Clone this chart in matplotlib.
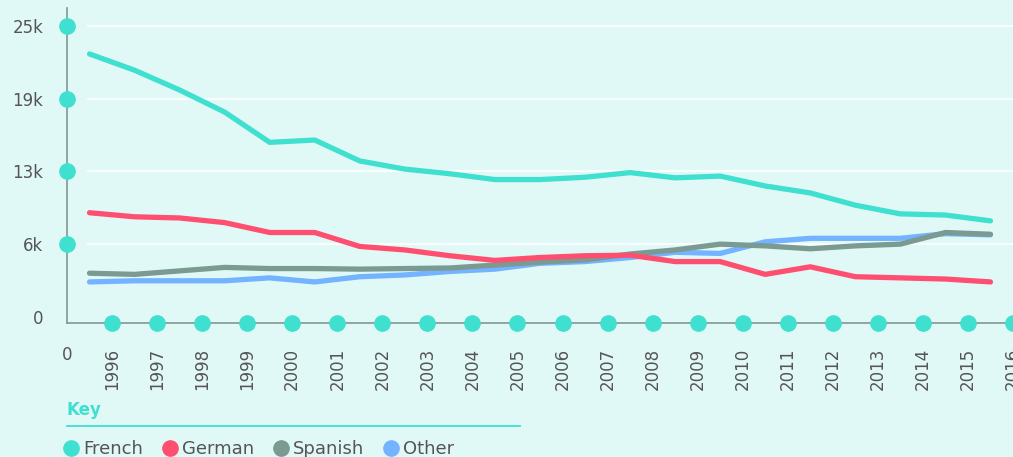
import matplotlib
matplotlib.use("Agg")
import matplotlib.pyplot as plt
from matplotlib.lines import Line2D
from matplotlib.transforms import blended_transform_factory

# data (one point per year)
years = list(range(1996, 2017))
french = [22600, 21200, 19500, 17600, 15000, 15200, 13400, 12700, 12300, 11800,
          11800, 12000, 12400, 11950, 12100, 11250, 10650, 9600, 8850, 8750, 8250]
german = [8950, 8600, 8500, 8100, 7250, 7250, 6050, 5750, 5250, 4850,
          5100, 5250, 5300, 4750, 4750, 3650, 4300, 3450, 3350, 3250, 3000]
spanish = [3750, 3650, 3950, 4250, 4150, 4150, 4100, 4150, 4200, 4450,
           4700, 4900, 5400, 5750, 6250, 6100, 5850, 6100, 6250, 7250, 7100]
other = [3000, 3100, 3100, 3100, 3350, 3000, 3450, 3600, 3900, 4100,
         4600, 4750, 5100, 5550, 5450, 6450, 6750, 6750, 6750, 7150, 7050]
series_names = ["French", "German", "Spanish", "Other"]
y_ticks = [0, 6250, 12500, 18750, 25000]
y_labels = ["0", "6k", "13k", "19k", "25k"]

colors = {"French": "#40e0d0", "German": "#ff4f70",
          "Spanish": "#7a9a92", "Other": "#74b3ff"}
bg = "#e1f9f6"
axis_col = "#7f9893"
text_col = "#555555"

fig = plt.figure(figsize=(10.13, 4.57), dpi=100, facecolor=bg)
ax = fig.add_axes([67 / 1013, 1 - 323 / 457, 946 / 1013, 315 / 457])
ax.set_facecolor(bg)

x = list(range(len(years)))
ax.set_xlim(-0.5, len(years) - 0.5)
ax.set_ylim(-530, 26550)

# white gridlines
for yt in y_ticks[1:]:
    ax.hlines(yt, -0.05, len(years) - 0.5, colors="white", linewidth=1.2, zorder=1)

values = {"French": french, "German": german, "Spanish": spanish, "Other": other}
for name in ["Other", "Spanish", "German", "French"]:
    ax.plot(x, values[name], color=colors[name], linewidth=3.8,
            solid_capstyle="round", solid_joinstyle="round", zorder=3)

for s in ["top", "right"]:
    ax.spines[s].set_visible(False)
for s in ["left", "bottom"]:
    ax.spines[s].set_color(axis_col)
    ax.spines[s].set_linewidth(1.2)

ax.set_yticks(y_ticks)
ax.set_yticklabels(y_labels)
tick_x = [i + 0.5 for i in x]
ax.set_xticks(tick_x)
ax.set_xticklabels([str(y) for y in years], rotation=90, va="top")
ax.tick_params(axis="y", length=0, pad=17, labelsize=12, labelcolor=text_col)
ax.tick_params(axis="x", length=0, pad=18, labelsize=12, labelcolor=text_col)
# the zero label sits a little higher in the reference
ax.get_yticklabels()[0].set_y(-350)

# dots on the axes
ax.plot(tick_x, [ax.get_ylim()[0]] * len(tick_x), "o", color=colors["French"],
        markersize=11, clip_on=False, zorder=5)
ax.plot([-0.5] * 4, y_ticks[1:], "o", color=colors["French"],
        markersize=11, clip_on=False, zorder=5)

# origin label
trans = blended_transform_factory(ax.transData, ax.transAxes)
ax.text(-0.5, -0.1, "0", transform=trans, ha="center", va="center",
        fontsize=12, color=text_col)

# key
fig.text(67 / 1013, 1 - 410 / 457, "Key", color=colors["French"], fontsize=12,
         fontweight="bold", va="center", ha="left")
fig.add_artist(Line2D([67 / 1013, 520 / 1013], [1 - 426 / 457] * 2,
                      color=colors["French"], linewidth=1.3,
                      transform=fig.transFigure))
handles = [Line2D([], [], marker="o", linestyle="", markersize=11,
                  color=colors[n]) for n in series_names]
leg = fig.legend(handles, series_names, loc="center left", ncol=4,
                 bbox_to_anchor=(64 / 1013, 1 - 449 / 457), frameon=False,
                 fontsize=13, handlelength=0.8, handletextpad=0.25,
                 columnspacing=1.1, borderpad=0, borderaxespad=0)
for t in leg.get_texts():
    t.set_color(text_col)

fig.savefig("out.png", dpi=100, facecolor=bg)
